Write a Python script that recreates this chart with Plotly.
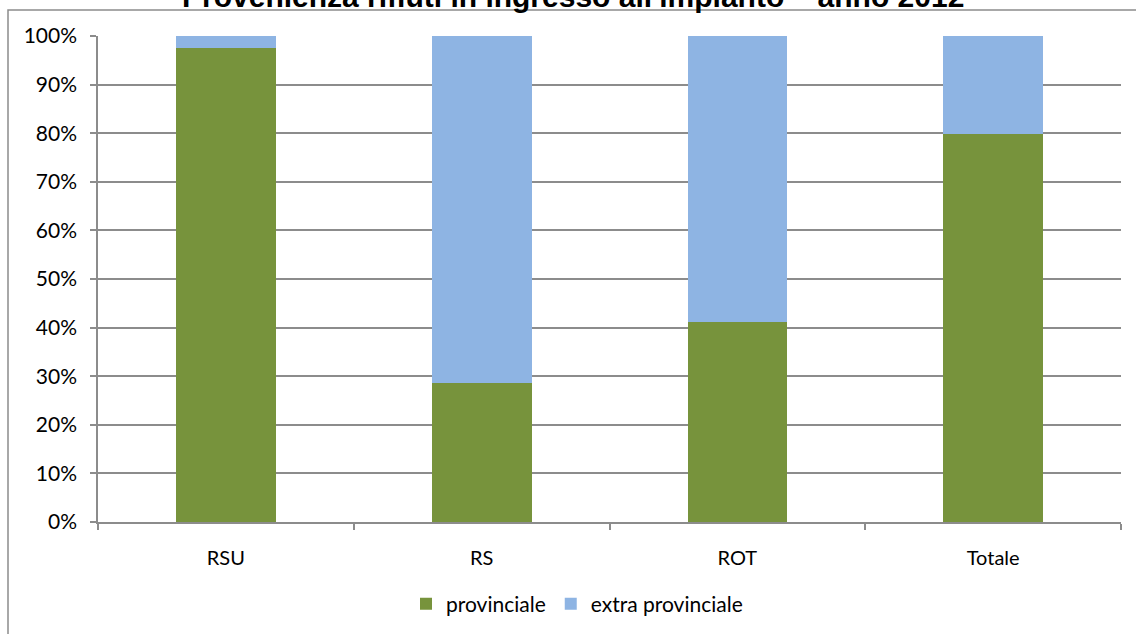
import plotly.graph_objects as go

categories = ["RSU", "RS", "ROT", "Totale"]
provinciale = [97.6, 28.7, 41.1, 79.8]
extra_provinciale = [2.4, 71.3, 58.9, 20.2]
y_ticks = [0, 10, 20, 30, 40, 50, 60, 70, 80, 90, 100]
y_tick_labels = [f"{v}%" for v in y_ticks]
title_text = "Provenienza rifiuti in ingresso all'impianto \u2013 anno 2012"

W, H = 1136, 634
L, R, T, B = 98, 1121, 36, 522

def px_x(x):
    return (x - L) / (R - L)

def px_y(y):
    return (B - y) / (B - T)

grid = "#8c8c8c"
font_family = "Lato, 'Noto Sans', sans-serif"

fig = go.Figure()
fig.add_trace(go.Bar(x=categories, y=provinciale, name="provinciale",
                     marker=dict(color="#77933C", line=dict(width=0))))
fig.add_trace(go.Bar(x=categories, y=extra_provinciale, name="extra provinciale",
                     marker=dict(color="#8EB4E3", line=dict(width=0))))

fig.update_layout(
    width=W, height=H,
    margin=dict(l=L, r=W - R, t=T, b=H - B, autoexpand=False),
    barmode="stack", bargap=0.61,
    plot_bgcolor="white", paper_bgcolor="white",
    font=dict(family=font_family, size=20, color="#000000"),
    showlegend=True,
    legend=dict(orientation="h", x=px_x(577), xanchor="center", y=px_y(604), yanchor="middle",
                font=dict(size=21), itemwidth=30, traceorder="normal"),
    xaxis=dict(showline=True, linecolor=grid, linewidth=1.5, ticks="outside", ticklen=6,
               tickcolor=grid, tickwidth=1.5, tickson="boundaries", showgrid=False,
               ticklabelstandoff=17, tickfont=dict(size=20), automargin=False),
    yaxis=dict(range=[0, 100], tickvals=y_ticks, ticktext=y_tick_labels, showgrid=True,
               gridcolor=grid, gridwidth=1.5, showline=True, linecolor=grid, linewidth=1.5,
               ticks="outside", ticklen=6, tickcolor=grid, tickwidth=1.5,
               ticklabelstandoff=9, tickfont=dict(size=21), zeroline=False, automargin=False),
)

fig.add_shape(type="rect", xref="paper", yref="paper",
              x0=px_x(8), x1=px_x(1300), y0=px_y(800), y1=px_y(10),
              line=dict(color="#8c8c8c", width=1.5), fillcolor="rgba(0,0,0,0)", layer="below")

fig.add_annotation(text=f"<b>{title_text}</b>", xref="paper", yref="paper",
                   x=px_x(573), y=px_y(15), xanchor="center", yanchor="bottom",
                   showarrow=False, font=dict(family="Liberation Sans, Arial, sans-serif", size=30))

fig.write_html("out.html")
